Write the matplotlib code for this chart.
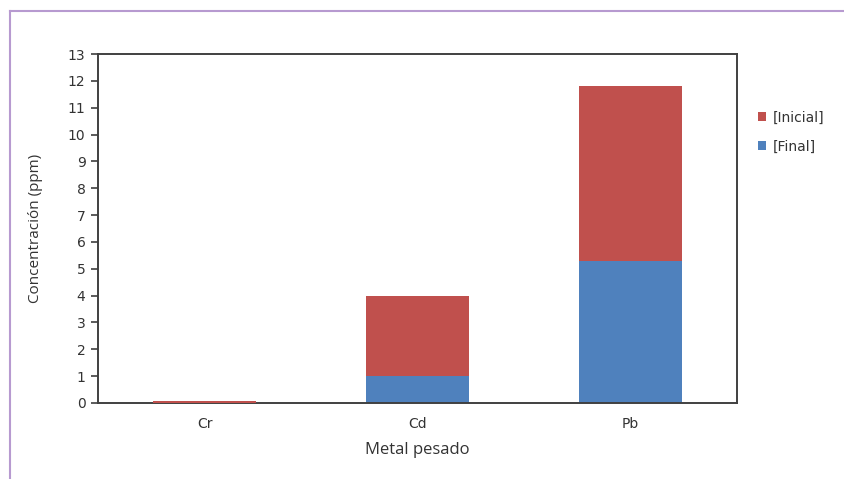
import matplotlib
matplotlib.use("Agg")
import matplotlib.pyplot as plt
from matplotlib.patches import Patch
from matplotlib.lines import Line2D
import numpy as np

# -----------------------------
# Data
# -----------------------------
metals = ["Cr", "Cd", "Pb"]
final_vals = [0.0, 1.0, 5.3]       # lower (blue) segment
inicial_vals = [0.06, 3.0, 6.5]    # upper (red) segment, stacked on final
y_ticks = list(range(0, 14))

BLUE = "#4F81BD"
RED = "#C0504D"
SPINE = "#404040"
TEXT = "#333333"

# -----------------------------
# Figure
# -----------------------------
fig = plt.figure(figsize=(8.44, 4.79), dpi=100)
fig.patch.set_facecolor("white")

# purple frame of the embedded chart object (left + top edges)
fig.add_artist(Line2D([10 / 844, 10 / 844], [0, 1 - 11 / 479], transform=fig.transFigure,
                      color="#B79AD0", lw=1.5))
fig.add_artist(Line2D([10 / 844, 1], [1 - 11 / 479, 1 - 11 / 479], transform=fig.transFigure,
                      color="#B79AD0", lw=1.5))

ax = fig.add_axes([98 / 844, 1 - 403 / 479, (737 - 98) / 844, (403 - 54) / 479])

x = np.arange(len(metals))
ax.bar(x, final_vals, width=0.48, color=BLUE, label="[Final]", zorder=2)
ax.bar(x, inicial_vals, width=0.48, bottom=final_vals, color=RED, label="[Inicial]", zorder=3)

ax.set_xlim(-0.5, len(metals) - 0.5)
ax.set_ylim(0, 13)
ax.set_yticks(y_ticks)
ax.set_xticks(x)
ax.set_xticklabels(metals)

for s in ax.spines.values():
    s.set_color(SPINE)
    s.set_linewidth(1.4)

ax.tick_params(axis="y", direction="out", length=5, width=1.2, color=SPINE,
               labelsize=10, labelcolor=TEXT, pad=4)
ax.tick_params(axis="x", length=0, labelsize=10, labelcolor=TEXT, pad=10)
for lab in ax.get_yticklabels() + ax.get_xticklabels():
    lab.set_fontfamily("DejaVu Sans")

ax.set_xlabel("Metal pesado", fontsize=12, color=TEXT, family="Open Sans", labelpad=8)
ax.set_ylabel("Concentración (ppm)", fontsize=11, color=TEXT, family="Open Sans",
              labelpad=18)

handles = [Patch(facecolor=RED, label="[Inicial]"), Patch(facecolor=BLUE, label="[Final]")]
fig.legend(handles=handles, loc="upper left", bbox_to_anchor=(745 / 844, 1 - 98 / 479),
           frameon=False, handlelength=0.6, handleheight=0.6, handletextpad=0.5,
           labelspacing=1.1, prop={"family": "DejaVu Sans", "size": 10}, labelcolor=TEXT)

fig.savefig("out.png", dpi=100, facecolor="white")
